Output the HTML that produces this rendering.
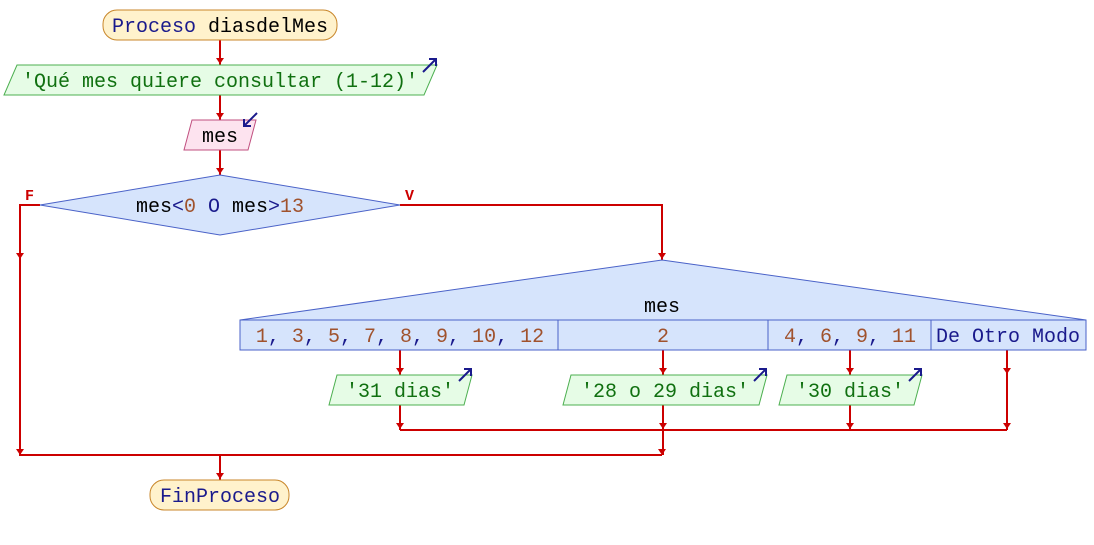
<!DOCTYPE html>
<html><head><meta charset="utf-8"><style>body{margin:0;background:#fff}svg{display:block}text{font-family:"Liberation Mono",monospace;font-size:20px}</style></head><body>
<svg width="1094" height="545" viewBox="0 0 1094 545" xmlns="http://www.w3.org/2000/svg">
<g stroke="#c00" stroke-width="2" fill="none">
<line x1="220" y1="40" x2="220" y2="65"/>
<line x1="220" y1="95" x2="220" y2="120"/>
<line x1="220" y1="150" x2="220" y2="175"/>
<polyline points="40,205 20,205 20,455 662,455"/>
<polyline points="400,205 662,205 662,260"/>
<line x1="400" y1="350" x2="400" y2="430"/>
<line x1="663" y1="350" x2="663" y2="455"/>
<line x1="850" y1="350" x2="850" y2="430"/>
<line x1="1007" y1="350" x2="1007" y2="430"/>
<line x1="400" y1="430" x2="1007" y2="430"/>
<line x1="220" y1="455" x2="220" y2="480"/>
</g>
<g fill="#c00">
<path d="M216,58h8l-4,6z"/><path d="M216,113h8l-4,6z"/><path d="M216,168h8l-4,6z"/>
<path d="M16,253h8l-4,6z"/><path d="M16,449h8l-4,6z"/><path d="M658,253h8l-4,6z"/>
<path d="M396,368h8l-4,6z"/><path d="M659,368h8l-4,6z"/><path d="M846,368h8l-4,6z"/><path d="M1003,368h8l-4,6z"/>
<path d="M396,423h8l-4,6z"/><path d="M659,423h8l-4,6z"/><path d="M846,423h8l-4,6z"/><path d="M1003,423h8l-4,6z"/>
<path d="M658,449h8l-4,6z"/><path d="M216,473h8l-4,6z"/>
</g>
<rect x="103" y="10" width="234" height="30" rx="14" fill="#fff2cc" stroke="#c8862a"/>
<text x="220" y="32" text-anchor="middle"><tspan fill="#1a1a8c">Proceso</tspan> diasdelMes</text>
<polygon points="17,65 437,65 424,95 4,95" fill="#e6fce6" stroke="#4caf50"/>
<text x="220" y="87" text-anchor="middle" fill="#107010">'Qué mes quiere consultar (1-12)'</text>
<polygon points="192,120 256,120 248,150 184,150" fill="#fde3ef" stroke="#c04f7f"/>
<text x="220" y="142" text-anchor="middle">mes</text>
<polygon points="220,175 400,205 220,235 40,205" fill="#d6e4fc" stroke="#4a62c8"/>
<text x="220" y="212" text-anchor="middle">mes<tspan fill="#1a1a8c">&lt;</tspan><tspan fill="#a0522d">0</tspan> <tspan fill="#1a1a8c">O</tspan> mes<tspan fill="#1a1a8c">&gt;</tspan><tspan fill="#a0522d">13</tspan></text>
<text x="25" y="200" fill="#c00" font-weight="bold" style="font-size:15px">F</text>
<text x="405" y="200" fill="#c00" font-weight="bold" style="font-size:15px">V</text>
<polygon points="662,260 1086,320 240,320" fill="#d6e4fc" stroke="#4a62c8"/>
<text x="662" y="312" text-anchor="middle">mes</text>
<g fill="#d6e4fc" stroke="#4a62c8"><rect x="240" y="320" width="318" height="30"/><rect x="558" y="320" width="210" height="30"/><rect x="768" y="320" width="163" height="30"/><rect x="931" y="320" width="155" height="30"/></g>
<g fill="#a0522d">
<text x="400" y="342" text-anchor="middle">1<tspan fill="#1a1a8c">,</tspan> 3<tspan fill="#1a1a8c">,</tspan> 5<tspan fill="#1a1a8c">,</tspan> 7<tspan fill="#1a1a8c">,</tspan> 8<tspan fill="#1a1a8c">,</tspan> 9<tspan fill="#1a1a8c">,</tspan> 10<tspan fill="#1a1a8c">,</tspan> 12</text>
<text x="663" y="342" text-anchor="middle">2</text>
<text x="850" y="342" text-anchor="middle">4<tspan fill="#1a1a8c">,</tspan> 6<tspan fill="#1a1a8c">,</tspan> 9<tspan fill="#1a1a8c">,</tspan> 11</text>
</g>
<text x="1008" y="342" text-anchor="middle" fill="#1a1a8c">De Otro Modo</text>
<g fill="#e6fce6" stroke="#4caf50">
<polygon points="337,375 472,375 464,405 329,405"/>
<polygon points="571,375 767,375 759,405 563,405"/>
<polygon points="787,375 922,375 914,405 779,405"/>
</g>
<g fill="#107010" text-anchor="middle">
<text x="400" y="397">'31 dias'</text>
<text x="665" y="397">'28 o 29 dias'</text>
<text x="850" y="397">'30 dias'</text>
</g>
<g stroke="#1a1a8c" stroke-width="2" fill="none">
<path d="M423,72 L436,59 M429,59 L436,59 L436,66"/>
<path d="M257,113 L244,126 M244,119 L244,126 L251,126"/>
<path d="M459,381 L471,369 M464,369 L471,369 L471,376"/>
<path d="M754,381 L766,369 M759,369 L766,369 L766,376"/>
<path d="M909,381 L921,369 M914,369 L921,369 L921,376"/>
</g>
<rect x="150" y="480" width="139" height="30" rx="14" fill="#fff2cc" stroke="#c8862a"/>
<text x="220" y="502" text-anchor="middle" fill="#1a1a8c">FinProceso</text>
</svg>
</body></html>
